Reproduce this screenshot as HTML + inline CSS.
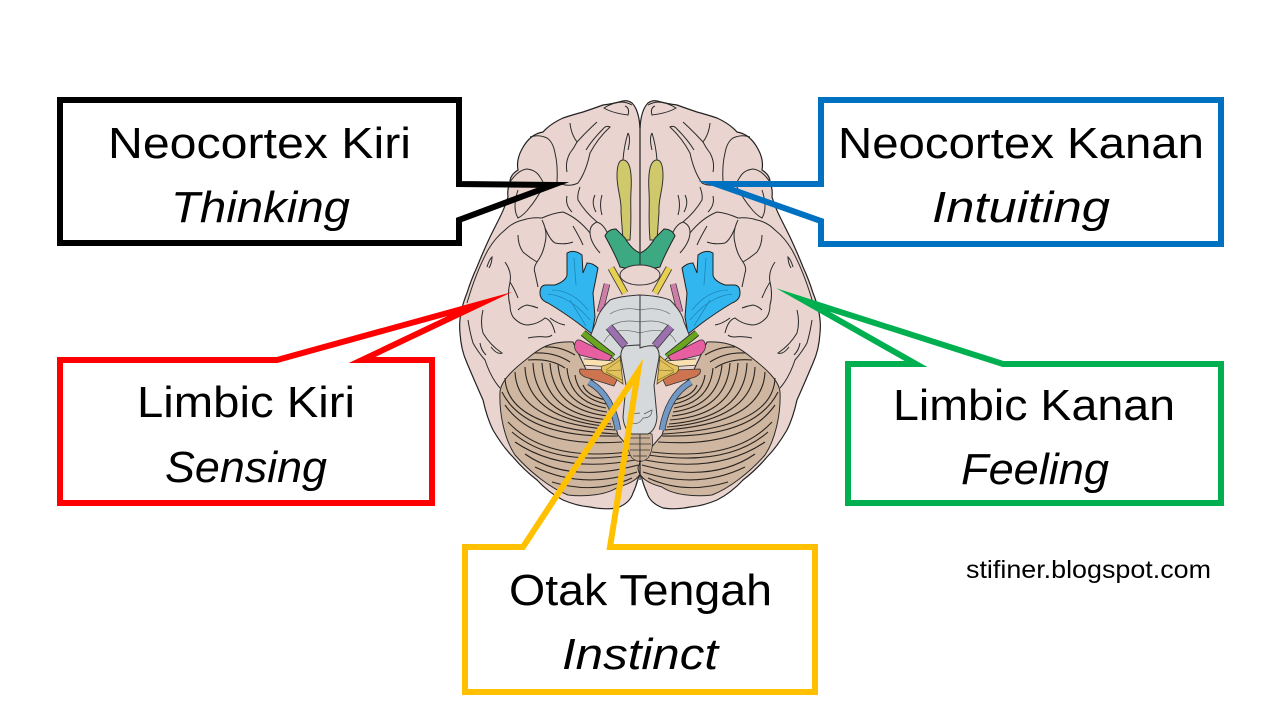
<!DOCTYPE html>
<html><head><meta charset="utf-8"><title>Brain diagram</title>
<style>
html,body{margin:0;padding:0;background:#fff;width:1280px;height:720px;overflow:hidden}
svg{display:block}
text{font-family:"Liberation Sans",sans-serif;fill:#000}
</style></head><body>
<svg width="1280" height="720" viewBox="0 0 1280 720" xmlns="http://www.w3.org/2000/svg">
<defs>
<g id="half">
<path d="M640 128 Q639 110 632 103 Q628 100 623 101 Q612 104 603 105 Q592 109 583 112 Q572 115 563 118 Q550 124 543 132 Q530 134 522 149 Q516 160 518 170 Q510 175 510 182 Q507 190 508 197 Q505 207 500 217 Q495 227 490 237 Q483 252 477 267 Q471 280 467 293 Q458 315 460 333 Q461 350 467 363 Q475 382 483 400 Q487 418 493 430 Q503 447 513 457 Q524 470 537 480 Q549 493 563 500 Q577 506 590 507 Q604 510 617 508 Q630 503 633 493 Q638 482 640 470" fill="#e9d4cf" stroke="#222" stroke-width="1.2"/>
<g fill="none" stroke="#2a2a2a" stroke-width="1">
<path d="M557 182 Q568 188 578 183 Q586 172 590 153 Q598 138 610 127 Q606 125 603 129 Q592 140 586 150"/>
<path d="M557 182 Q558 165 555 153 Q553 142 547 138 Q538 134 530 137"/>
<path d="M567 172 Q565 162 570 153 Q574 148 577 142 Q586 132 597 122"/>
<path d="M570 123 Q571 134 577 142"/>
<path d="M510 182 Q518 170 527 169 Q536 170 540 177 Q545 184 543 187 Q536 200 530 207 Q524 215 518 218 Q512 208 518 190"/>
<path d="M580 187 Q577 195 578 200 Q585 212 597 222 Q590 225 590 232 Q590 242 600 253"/>
<path d="M597 222 Q603 224 607 232 L609 238"/>
<path d="M628 133 Q624 146 623 160 M628 133 Q631 138 628 150"/>
<path d="M595 195 Q591 203 596 212 M602 195 Q599 205 602 215 M567 196 Q565 205 572 212"/>
<path d="M632 105 Q620 98 604 108 Q612 113 628 115 Q630 108 625 106"/>
<path d="M467 303 Q476 272 488 250 Q495 238 505 230 Q513 222 523 220 Q532 217 542 218 Q553 213 563 212 Q578 218 590 233"/>
<path d="M518 235 Q518 245 523 252 Q530 258 537 262 Q533 268 535 273 L538 287"/>
<path d="M542 220 Q548 232 545 243 Q543 254 537 262"/>
<path d="M545 228 Q550 240 555 243 Q565 245 573 242 M573 226 Q580 238 583 245"/>
<path d="M505 262 Q512 272 510 282 Q507 295 510 305 Q510 312 513 317 Q520 325 528 325 Q538 324 545 318 Q552 320 555 333 M550 318 Q558 324 565 325"/>
<path d="M518 310 Q522 306 527 305 Q533 306 538 308 M510 282 Q515 290 518 298"/>
<path d="M483 310 Q480 322 483 333 Q490 345 502 353 Q497 355 491 347 M480 343 Q481 350 486 355"/>
<path d="M468 320 Q470 333 473 343 Q478 352 485 360 Q491 378 500 388"/>
<path d="M528 338 Q538 336 545 337 Q550 337 552 335 M487 267 Q489 260 492 257 Q492 263 489 268"/>
</g>
<path d="M623 160 C 619 160 617 166 617 176 C 617 190 622 200 621 212 L623 240 L630 240 C 632 215 630 205 631 192 C 632 176 631 160 623 160Z" fill="#cfc96b" stroke="#333" stroke-width="1"/>
<path d="M605 236 Q608 229 616 229 L625 238 Q632 250 640 253 L640 270 Q628 269 620 267 Q616 256 605 236Z" fill="#3ca983" stroke="#222" stroke-width="1"/>
<line x1="611" y1="268" x2="625" y2="293" stroke="#333" stroke-width="7"/><line x1="611" y1="268" x2="625" y2="293" stroke="#e7cf50" stroke-width="5.4"/>
<line x1="607" y1="284" x2="600" y2="312" stroke="#333" stroke-width="6.5"/><line x1="607" y1="284" x2="600" y2="312" stroke="#cc7da8" stroke-width="5"/>
<path d="M567 253 Q574 249 582 255 L583 273 L587 263 Q593 263 598 268 L593 293 L595 317 L592 334 L578 323 Q563 312 548 303 Q540 300 540 293 Q540 285 546 285 L555 285 Q566 281 567 275Z" fill="#32b6ef" stroke="#222" stroke-width="1"/>
<g fill="none" stroke="#1d86b8" stroke-width=".8"><path d="M548 294 Q570 296 590 320 M552 290 Q572 290 588 310 M574 258 L576 285 M570 300 L586 326"/></g>
<path d="M640 295 Q620 296 610 300 Q598 312 596 322 L590 337 L615 360 L640 360Z" fill="#d6d9db" stroke="#333" stroke-width="1"/>
<g fill="none" stroke="#666" stroke-width=".7"><path d="M610 314 Q622 306 640 310 M606 330 Q618 318 640 322 M604 342 Q612 325 640 333"/></g>
<path d="M500 392 C501 380 515 368 528 358 C540 348 550 341 573 342 L590 378 L606 395 L618 435 L638 458 L642 467 C642 478 630 484 618 487 C607 495 585 497 568 495 C550 488 530 472 515 455 C505 440 499 415 500 392Z" fill="#cfb6a0" stroke="#2a2a2a" stroke-width="1"/>
<g fill="none" stroke="#2a241f" stroke-width="1.1">
<path d="M505 378Q507 428 617 434M515 372Q517 423 615 430M525 367Q527 420 613 427M533 363Q535 418 611 424M542 363Q545 415 610 420M550 363Q553 410 608 416M558 365Q562 406 607 412M567 368Q570 402 606 408M575 375Q578 398 606 404M583 385Q587 396 606 400"/>
<path d="M535 353Q555 352 570 362M545 347Q560 346 575 355M528 360Q550 358 565 368"/>
<path d="M502 392Q525 438 618 436M505 405Q535 448 622 442M508 422Q545 462 628 452M512 432Q552 467 632 455M515 442Q562 474 635 460M525 454Q568 484 638 465M535 467Q582 490 637 472M552 482Q595 495 632 478"/>
</g>
<path d="M640 432 L628 434 Q626 450 632 458 Q637 462 640 461Z" fill="#c9ae96" stroke="#333" stroke-width=".8"/>
<path d="M630 438H640M629 444H640M630 450H640M633 456H640" stroke="#333" stroke-width=".8"/>
<line x1="583" y1="333" x2="613" y2="357" stroke="#222" stroke-width="7"/><line x1="583" y1="333" x2="613" y2="357" stroke="#6aa520" stroke-width="5.4"/>
<path d="M575 343 Q577 338 582 341 L612 356 L608 362 L580 355Q573 350 575 343Z" fill="#e85fa1" stroke="#333" stroke-width=".8"/>
<line x1="584" y1="362" x2="613" y2="364" stroke="#333" stroke-width="7"/><line x1="584" y1="362" x2="613" y2="364" stroke="#fbe1b2" stroke-width="5.4"/>
<path d="M580 369 L606 370 L617 380 L614 386 L585 377 Q578 374 580 369Z" fill="#cf7451" stroke="#333" stroke-width=".8"/>
<path d="M602 366 Q612 364 620 356 L623 384 Q612 376 606 374 Q600 372 602 366Z" fill="#e2c25d" stroke="#5a4a20" stroke-width=".8"/>
<path d="M606 370L620 360M606 371L621 370M606 372L622 380" stroke="#8f7a30" stroke-width=".7"/>
<path d="M589 382 Q612 395 618 430" fill="none" stroke="#333" stroke-width="6.5"/><path d="M589 382 Q612 395 618 430" fill="none" stroke="#7099c5" stroke-width="5"/>
<line x1="609" y1="327" x2="625" y2="346" stroke="#333" stroke-width="8"/><line x1="609" y1="327" x2="625" y2="346" stroke="#9a71ae" stroke-width="6.5"/>
</g>
</defs>

<use href="#half"/>
<use href="#half" transform="translate(1280,0) scale(-1,1)"/>
<line x1="640" y1="124" x2="640" y2="252" stroke="#222" stroke-width="1.2"/>
<line x1="640" y1="460" x2="640" y2="480" stroke="#222" stroke-width="1.2"/>
<ellipse cx="640" cy="275" rx="20" ry="10" fill="#e9d4cf" stroke="#333" stroke-width="1"/>
<path d="M640 345 Q632 345 625 346 Q620 350 621 358 L626 385 L623 417 Q624 430 632 434 L648 434 Q656 430 657 417 L654 385 L659 358 Q660 350 655 346 Q648 345 640 348Z" fill="#d6d9db" stroke="#333" stroke-width="1"/>
<path d="M628 420 Q637 428 643 418 Q652 418 652 410 L644 414 M630 414 L640 413" fill="none" stroke="#555" stroke-width=".7"/>

<g fill="none" stroke-width="6" stroke-miterlimit="30" stroke-linejoin="miter">
<path d="M60 100H459V184L553 185L459 220V243H60Z" stroke="#000"/>
<path d="M821 100H1221V244H821V221L716 184L821 184Z" stroke="#0070c0"/>
<path d="M60 360H277L480 304L362 360H432V503H60Z" stroke="#ff0000"/>
<path d="M848 364H916L803 300L1003 364H1221V503H848Z" stroke="#00b050"/>
<path d="M465 547H523L638 372L610 547H815V692H465Z" stroke="#ffc000"/>
</g>

<g font-size="44">
<text x="108" y="158" textLength="303" lengthAdjust="spacingAndGlyphs">Neocortex Kiri</text>
<text x="171" y="222" textLength="179" lengthAdjust="spacingAndGlyphs" font-style="italic">Thinking</text>
<text x="838" y="158" textLength="366" lengthAdjust="spacingAndGlyphs">Neocortex Kanan</text>
<text x="932" y="222" textLength="178" lengthAdjust="spacingAndGlyphs" font-style="italic">Intuiting</text>
<text x="137" y="417" textLength="218" lengthAdjust="spacingAndGlyphs">Limbic Kiri</text>
<text x="165" y="482" textLength="162" lengthAdjust="spacingAndGlyphs" font-style="italic">Sensing</text>
<text x="893" y="420" textLength="282" lengthAdjust="spacingAndGlyphs">Limbic Kanan</text>
<text x="961" y="484" textLength="148" lengthAdjust="spacingAndGlyphs" font-style="italic">Feeling</text>
<text x="509" y="605" textLength="263" lengthAdjust="spacingAndGlyphs">Otak Tengah</text>
<text x="562" y="669" textLength="156" lengthAdjust="spacingAndGlyphs" font-style="italic">Instinct</text>
</g>
<text x="966" y="578" font-size="25" textLength="245" lengthAdjust="spacingAndGlyphs">stifiner.blogspot.com</text>
</svg>
</body></html>
